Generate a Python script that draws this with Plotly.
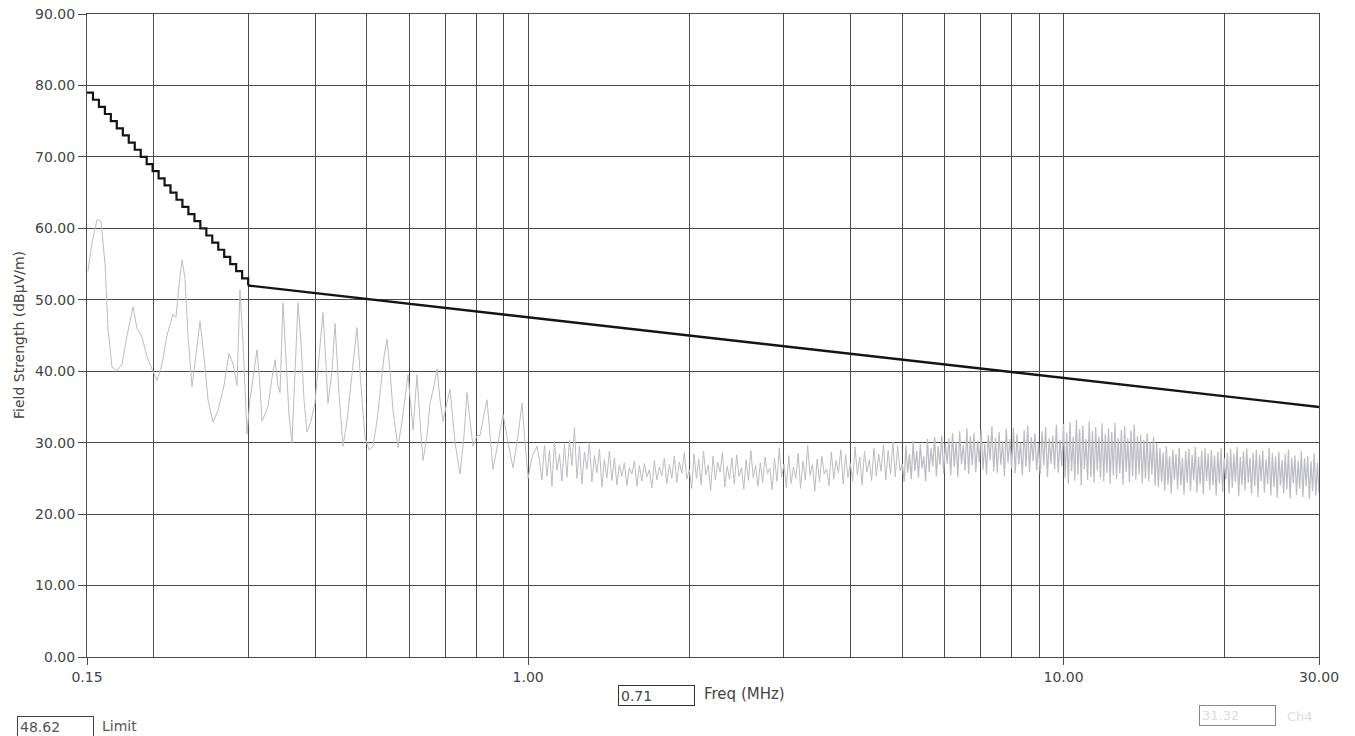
import numpy as np
import plotly.graph_objects as go

# ---------------- data ----------------
# Limit line: staircase section 0.15-0.30 MHz, then straight (log-linear) to 30 MHz
limit_step_freq = [0.1500, 0.1539, 0.1579, 0.1620, 0.1662, 0.1705, 0.1750, 0.1795, 0.1842, 0.1890,
                   0.1939, 0.1989, 0.2041, 0.2094, 0.2148, 0.2204, 0.2261, 0.2320, 0.2381, 0.2442,
                   0.2506, 0.2571, 0.2638, 0.2706, 0.2777, 0.2849, 0.2923, 0.3000]
limit_step_level = [79, 78, 77, 76, 75, 74, 73, 72, 71, 70, 69, 68, 67, 66, 65, 64, 63, 62, 61, 60,
                    59, 58, 57, 56, 55, 54, 53, 52]
limit_slope_freq = [0.30, 30.0]
limit_slope_level = [52.0, 35.0]

# Measured trace, low-frequency part (read point by point)
trace_freq_a = [0.1506, 0.1533, 0.1566, 0.1593, 0.1621, 0.1642, 0.1670, 0.1707, 0.1744, 0.1782,
                0.1828, 0.1860, 0.1900, 0.1942, 0.1984, 0.2027, 0.2071, 0.2116, 0.2171, 0.2199,
                0.2228, 0.2257, 0.2286, 0.2316, 0.2356, 0.2397, 0.2439, 0.2481, 0.2524, 0.2579,
                0.2635, 0.2704, 0.2763, 0.2811, 0.2859, 0.2896, 0.2934, 0.2985]
trace_level_a = [54.0, 58.0, 61.2, 61.0, 55.0, 46.0, 40.6, 40.0, 41.0, 45.0,
                 49.0, 46.0, 44.8, 42.0, 40.3, 38.7, 41.0, 45.0, 48.0, 47.5,
                 52.0, 55.6, 53.0, 45.0, 37.8, 42.0, 47.0, 42.0, 36.0, 32.9,
                 34.5, 38.0, 42.5, 41.0, 38.0, 51.4, 44.0, 31.2]

trace_freq_b = [0.3023, 0.3076, 0.3116, 0.3156, 0.3183, 0.3225, 0.3267, 0.3323, 0.3367, 0.3410,
                0.3440, 0.3484, 0.3530, 0.3575, 0.3622, 0.3669, 0.3717, 0.3765, 0.3814, 0.3863,
                0.3930, 0.3998, 0.4068, 0.4138, 0.4192, 0.4228, 0.4302, 0.4358, 0.4433, 0.4510,
                0.4588, 0.4648, 0.4729, 0.4790, 0.4873, 0.4958, 0.5044, 0.5131, 0.5220, 0.5311,
                0.5380, 0.5450]
trace_level_b = [36.0, 40.0, 43.0, 38.0, 33.0, 34.0, 35.0, 39.0, 41.6, 38.0,
                 37.0, 49.6, 42.0, 34.0, 30.0, 40.0, 49.6, 44.0, 36.0, 31.5,
                 33.0, 35.5, 42.0, 48.2, 41.0, 35.5, 40.0, 46.7, 37.0, 29.5,
                 33.0, 37.0, 42.0, 46.1, 38.0, 30.7, 29.0, 29.5, 33.0, 38.0,
                 42.0, 44.5]

trace_freq_c = [0.5522, 0.5593, 0.5715, 0.5839, 0.5966, 0.6096, 0.6201, 0.6282, 0.6364, 0.6474,
                0.6558, 0.6672, 0.6758, 0.6846, 0.6935, 0.7025, 0.7147, 0.7302, 0.7461, 0.7591,
                0.7689, 0.7789, 0.7890, 0.8027, 0.8131, 0.8272, 0.8380, 0.8489, 0.8599, 0.8786,
                0.8977, 0.9172, 0.9371, 0.9575, 0.9741, 0.9868, 1.0000, 1.0169, 1.0390]
trace_level_c = [40.0, 34.5, 29.3, 34.0, 39.5, 31.8, 39.5, 33.0, 27.5, 31.0,
                 35.5, 38.0, 40.3, 36.0, 33.0, 35.0, 37.5, 30.0, 25.6, 31.0,
                 37.0, 33.0, 29.5, 31.0, 31.0, 34.0, 36.0, 31.0, 26.3, 30.0,
                 34.0, 30.0, 26.5, 31.0, 35.5, 30.0, 25.0, 28.0, 29.5]

# Measured trace, dense sweep part: sweep segment edges (MHz) and read levels
sweep_edges = [1.05, 2.0, 5.0, 10.0, 30.0]
sweep_level_d = [27.5, 24.8, 29.6, 25.3, 28.9, 23.9, 30.2, 26.1, 28.4, 24.6, 29.8, 25.2, 30.4, 26.8, 32.1,
                 25.0, 29.5, 24.2, 28.7, 26.3, 30.0, 24.5, 28.2, 25.8, 29.1, 23.8, 27.6, 25.1, 28.8, 24.7,
                 27.9, 24.1, 26.9, 25.3, 27.2, 24.0, 26.5, 25.6, 27.4, 23.9, 26.8, 24.6, 27.1, 25.2, 26.2,
                 23.7, 27.5, 24.8, 26.6, 25.4, 27.8, 24.3, 26.9, 25.0, 28.1, 24.4, 27.3, 25.7, 28.6, 24.9]
sweep_level_e = [26.2, 23.6, 28.4, 25.0, 27.7, 24.1, 28.8, 25.5, 26.9, 23.3, 28.1, 24.8, 27.3, 25.9, 28.6,
                 23.8, 26.7, 24.9, 27.9, 24.2, 28.3, 25.3, 26.5, 23.5, 27.6, 24.7, 28.9, 25.1, 26.8, 23.9,
                 27.2, 24.4, 28.0, 25.7, 26.4, 23.4, 27.8, 24.6, 29.3, 25.2, 27.0, 23.7, 28.2, 24.3, 26.6,
                 25.0, 28.5, 23.6, 27.4, 24.8, 29.6, 25.4, 26.9, 23.2, 27.7, 24.5, 28.1, 25.6, 26.3, 24.0,
                 28.7, 24.9, 27.5, 25.8, 29.0, 24.2, 28.3, 25.1, 27.1, 24.6, 29.4, 25.5, 28.0, 24.1, 28.8,
                 25.9, 27.6, 24.7, 29.2, 25.3, 28.4, 26.0, 29.7, 24.8, 28.9, 25.6, 30.1, 25.2, 29.5, 26.1]
sweep_level_f = [27.0, 24.5, 29.6, 25.8, 28.4, 24.9, 30.2, 26.0, 28.9, 25.1, 29.8, 26.4, 28.1, 24.6, 30.5,
                 25.9, 29.2, 26.7, 30.8, 25.3, 29.5, 26.9, 31.0, 25.7, 29.9, 27.1, 30.6, 25.4, 31.3, 26.6,
                 30.1, 25.2, 31.6, 27.0, 29.7, 26.1, 32.0, 25.6, 30.9, 26.8, 31.4, 25.9, 30.3, 27.3, 31.8,
                 26.2, 29.8, 25.5, 31.1, 27.5, 32.3, 26.0, 30.7, 25.8, 31.5, 26.9, 30.2, 25.3, 31.9, 27.2,
                 30.5, 26.4, 32.1, 25.7, 31.2, 27.0, 30.0, 25.4, 31.7, 26.6, 32.4, 25.9, 30.8, 27.4, 31.3,
                 26.1, 29.9, 25.6, 31.6, 26.8, 32.2, 25.2, 30.6, 27.1, 31.0, 26.3, 32.5, 25.8, 30.4, 26.7]
sweep_level_g = [32.6, 25.1, 31.4, 24.3, 32.9, 26.0, 30.8, 24.7, 33.2, 25.5, 31.9, 24.0, 32.4, 26.3, 30.5,
                 24.8, 33.0, 25.2, 31.6, 24.4, 32.2, 26.1, 30.9, 25.0, 32.7, 24.6, 31.2, 25.8, 32.0, 24.2,
                 31.5, 25.4, 32.8, 24.9, 30.7, 25.7, 31.8, 24.1, 32.3, 25.9, 30.6, 24.5, 31.7, 25.3, 32.5,
                 24.8, 30.9, 25.6, 31.1, 24.3, 30.4, 25.0, 31.3, 24.6, 30.1, 25.5, 30.8, 24.0, 29.9,
                 23.8, 29.2, 24.5, 28.6, 23.3, 29.5, 24.1, 28.1, 22.9, 29.0, 24.8, 28.4, 23.5, 29.3, 24.0,
                 27.9, 22.7, 28.8, 24.4, 29.1, 23.2, 28.3, 24.7, 29.4, 23.0, 28.0, 24.2, 28.9, 22.8, 29.2,
                 24.6, 28.5, 23.4, 29.0, 24.0, 28.2, 22.6, 28.7, 24.3, 29.3, 23.1, 27.8, 24.9, 28.6, 22.9,
                 29.1, 23.7, 28.4, 24.5, 29.4, 22.5, 28.0, 24.1, 28.8, 23.3, 29.2, 24.4, 27.9, 22.8, 28.6,
                 23.9, 29.0, 22.4, 28.3, 24.6, 28.9, 23.0, 27.7, 24.2, 29.3, 22.6, 28.5, 23.8, 28.1, 22.3,
                 28.7, 24.0, 27.6, 22.9, 28.4, 23.5, 29.0, 22.2, 27.9, 24.3, 28.2, 22.7, 27.5, 23.6, 28.8,
                 22.4, 27.8, 23.9, 28.1, 22.1, 27.4, 23.2, 28.5, 22.6, 27.2, 23.0]

x_tick_vals = [0.15, 1.0, 10.0, 30.0]
x_tick_text = ["0.15", "1.00", "10.00", "30.00"]
x_grid_vals = [0.2, 0.3, 0.4, 0.5, 0.6, 0.7, 0.8, 0.9, 2, 3, 4, 5, 6, 7, 8, 9, 20]
y_tick_vals = [0, 10, 20, 30, 40, 50, 60, 70, 80, 90]

y_title = "Field Strength (dBµV/m)"
marker_freq_text = "0.71"
marker_limit_text = "48.62"
marker_ch_text = "31.32"

# ---------------- build ----------------
seg_levels = [sweep_level_d, sweep_level_e, sweep_level_f, sweep_level_g]
seg_freqs = []
for i, lv in enumerate(seg_levels):
    last = i == len(seg_levels) - 1
    seg_freqs.append(np.geomspace(sweep_edges[i], sweep_edges[i + 1], len(lv),
                                  endpoint=last).tolist())

# low part + sparse sweep (1-5 MHz)
trace1_freq = trace_freq_a + trace_freq_b + trace_freq_c + seg_freqs[0] + seg_freqs[1]
trace1_level = trace_level_a + trace_level_b + trace_level_c + sweep_level_d + sweep_level_e
# dense sweep (5-30 MHz), joined to the previous point
trace2_freq = [trace1_freq[-1]] + seg_freqs[2] + seg_freqs[3]
trace2_level = [trace1_level[-1]] + sweep_level_f + sweep_level_g

FONT = "DejaVu Sans, Liberation Sans, sans-serif"
GRID = "#4a4a4a"
TXT = "#444444"
TRACE = "#bcbcc5"

PL, PR, PT, PB = 87, 1319, 14, 657  # plot area in pixels
PW, PH = PR - PL, PB - PT


def px(x):
    return (x - PL) / PW


def py(y):
    return (PB - y) / PH


fig = go.Figure()
fig.add_trace(go.Scatter(x=trace1_freq, y=trace1_level, mode="lines",
                         line=dict(color=TRACE, width=1), showlegend=False, hoverinfo="skip"))
fig.add_trace(go.Scatter(x=trace2_freq, y=trace2_level, mode="lines",
                         line=dict(color=TRACE, width=1.25), showlegend=False, hoverinfo="skip"))
fig.add_trace(go.Scatter(x=limit_step_freq, y=limit_step_level, mode="lines",
                         line=dict(color="#141414", width=2.2, shape="hv"), showlegend=False))
fig.add_trace(go.Scatter(x=limit_slope_freq, y=limit_slope_level, mode="lines",
                         line=dict(color="#141414", width=2.4), showlegend=False))

fig.update_layout(
    width=1355, height=736,
    margin=dict(l=PL, r=1355 - PR, t=PT, b=736 - PB, autoexpand=False),
    paper_bgcolor="white", plot_bgcolor="white",
    font=dict(family=FONT, size=14, color=TXT),
    showlegend=False,
)
fig.update_xaxes(
    type="log", automargin=False,
    range=[np.log10(0.15), np.log10(30)],
    tickmode="array", tickvals=x_tick_vals, ticktext=x_tick_text,
    ticks="outside", ticklen=7, tickcolor=GRID, tickwidth=1,
    showgrid=True, gridcolor=GRID, gridwidth=1,
    minor=dict(tickmode="array", tickvals=x_grid_vals, showgrid=True,
               gridcolor=GRID, gridwidth=1, ticks=""),
    showline=True, linecolor=GRID, linewidth=1, mirror=True,
    zeroline=False,
    tickfont=dict(family=FONT, size=14, color=TXT),
)
fig.update_yaxes(
    automargin=False,
    range=[0, 90],
    tickmode="array", tickvals=y_tick_vals, tickformat=".2f",
    ticks="outside", ticklen=8, tickcolor=GRID, tickwidth=1,
    showgrid=True, gridcolor=GRID, gridwidth=1,
    showline=True, linecolor=GRID, linewidth=1, mirror=True,
    zeroline=False,
    tickfont=dict(family=FONT, size=14, color=TXT),
)

# y-axis title (placed explicitly)
fig.add_annotation(xref="paper", yref="paper", x=px(19), y=py(335), xanchor="center",
                   yanchor="middle", text=y_title, textangle=-90, showarrow=False,
                   font=dict(family=FONT, size=14, color=TXT))

# Marker read-out boxes below the plot
box_font = dict(family=FONT, size=14, color=TXT)
fig.add_annotation(xref="paper", yref="paper", x=px(618), y=py(695),
                   xanchor="left", yanchor="middle", text=marker_freq_text, showarrow=False,
                   width=71, height=15, align="left", bordercolor="#333333", borderwidth=1,
                   borderpad=2, font=box_font)
fig.add_annotation(xref="paper", yref="paper", x=px(702), y=py(694),
                   xanchor="left", yanchor="middle", text="Freq (MHz)", showarrow=False,
                   font=dict(family=FONT, size=15, color=TXT))
fig.add_annotation(xref="paper", yref="paper", x=px(17), y=py(726),
                   xanchor="left", yanchor="middle", text=marker_limit_text, showarrow=False,
                   width=71, height=15, align="left", bordercolor="#444444", borderwidth=1,
                   borderpad=2, font=dict(family=FONT, size=14, color="#555555"))
fig.add_annotation(xref="paper", yref="paper", x=px(100), y=py(726),
                   xanchor="left", yanchor="middle", text="Limit", showarrow=False,
                   font=dict(family=FONT, size=14, color="#555555"))
fig.add_annotation(xref="paper", yref="paper", x=px(1199), y=py(715),
                   xanchor="left", yanchor="middle", text=marker_ch_text, showarrow=False,
                   width=71, height=15, align="left", bordercolor="#888888", borderwidth=1,
                   borderpad=2, font=dict(family=FONT, size=13, color="#dddddd"))
fig.add_annotation(xref="paper", yref="paper", x=px(1285), y=py(716),
                   xanchor="left", yanchor="middle", text="Ch4", showarrow=False,
                   font=dict(family=FONT, size=13, color="#dddddd"))

# remove the default 8px page margin so the figure sits at the page origin
fig.write_html("out.html", config={"displayModeBar": False},
               post_script="document.body.style.margin='0';document.body.style.overflow='hidden';")
